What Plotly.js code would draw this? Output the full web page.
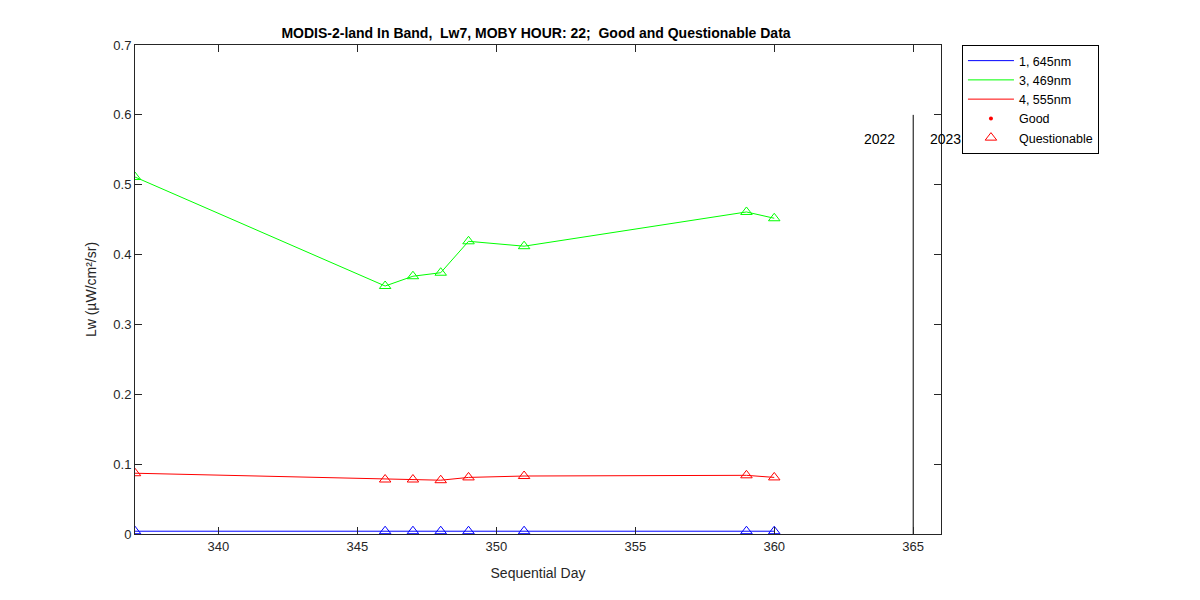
<!DOCTYPE html>
<html>
<head>
<meta charset="utf-8">
<script src="https://cdn.plot.ly/plotly-3.0.1.min.js"></script>
<style>body{margin:0;background:#fff}#chart{width:1200px;height:600px}</style>
</head>
<body>
<div id="chart"></div>
<script>
const days = [337, 346, 347, 348, 349, 351, 359, 360];
const band1_645 = [0.004, 0.004, 0.004, 0.004, 0.004, 0.004, 0.004, 0.004];
const band3_469 = [0.511, 0.355, 0.369, 0.374, 0.419, 0.412, 0.461, 0.452];
const band4_555 = [0.087, 0.078, 0.078, 0.077, 0.081, 0.083, 0.084, 0.081];
const yearDay = 365;
const yearLineTop = 0.6;
const yearLabels = ["2022", "2023"];
const seriesNames = ["1, 645nm", "3, 469nm", "4, 555nm"];
const seriesColors = ["#0000ff", "#00ff00", "#ff0000"];
const seriesValues = [band1_645, band3_469, band4_555];

const traces = [];
seriesNames.forEach((n, i) => {
  traces.push({x: [null], y: [null], mode: 'lines', name: n,
    line: {color: seriesColors[i], width: 1}, hoverinfo: 'skip'});
});
traces.push({x: [null], y: [null], mode: 'markers', name: 'Good',
  marker: {symbol: 'circle', size: 4, color: '#ff0000'}});
traces.push({x: [null], y: [null], mode: 'markers', name: 'Questionable',
  marker: {symbol: 'triangle-up-open', size: 10, color: '#ff0000', line: {width: 1}}});
[0, 2, 1].forEach(i => {
  traces.push({x: days, y: seriesValues[i], mode: 'lines+markers', showlegend: false,
    line: {color: seriesColors[i], width: 1},
    marker: {symbol: 'triangle-up-open', size: 10, color: seriesColors[i], line: {width: 1}}});
});
traces.push({x: [yearDay, yearDay], y: [0, yearLineTop], mode: 'lines', showlegend: false,
  line: {color: '#000000', width: 1}});

const layout = {
  width: 1200, height: 600,
  margin: {l: 135, r: 259, t: 45, b: 66},
  paper_bgcolor: '#ffffff', plot_bgcolor: '#ffffff',
  font: {family: 'Liberation Sans, Arial, sans-serif', size: 13, color: '#262626'},
  title: {text: 'MODIS-2-land In Band,  Lw7, MOBY HOUR: 22;  Good and Questionable Data',
    font: {size: 14, color: '#000000', weight: 'bold'}, x: 536/1200, xanchor: 'center', y: 0.945, yanchor: 'middle'},
  xaxis: {range: [337, 366], tickvals: [340, 345, 350, 355, 360, 365], ticks: 'inside', ticklen: 7,
    tickcolor: '#262626', showline: true, linecolor: '#262626', mirror: 'ticks', showgrid: false, zeroline: false,
    title: {text: 'Sequential Day', font: {size: 14, color: '#262626'}, standoff: 15}},
  yaxis: {range: [0, 0.7], tickvals: [0, 0.1, 0.2, 0.3, 0.4, 0.5, 0.6, 0.7], ticktext: ['0','0.1','0.2','0.3','0.4','0.5','0.6','0.7'],
    ticks: 'inside', ticklen: 7, tickcolor: '#262626', showline: true, linecolor: '#262626', mirror: 'ticks',
    showgrid: false, zeroline: false,
    title: {text: 'Lw (µW/cm²/sr)', font: {size: 14, color: '#262626'}, standoff: 13}},
  legend: {x: 1.026, y: 1, xanchor: 'left', yanchor: 'top', bordercolor: '#000000', borderwidth: 1,
    bgcolor: '#ffffff', font: {size: 12.5, color: '#000000'}, tracegroupgap: 0, itemwidth: 46},
  annotations: [
    {x: yearDay - 0.6, y: 0.565, xref: 'x', yref: 'y', text: yearLabels[0], showarrow: false, xanchor: 'right', font: {size: 14, color: '#000'}},
    {x: yearDay + 0.55, y: 0.565, xref: 'x', yref: 'y', text: yearLabels[1], showarrow: false, xanchor: 'left', font: {size: 14, color: '#000'}}
  ]
};
Plotly.newPlot('chart', traces, layout, {displayModeBar: false});
</script>
</body>
</html>
